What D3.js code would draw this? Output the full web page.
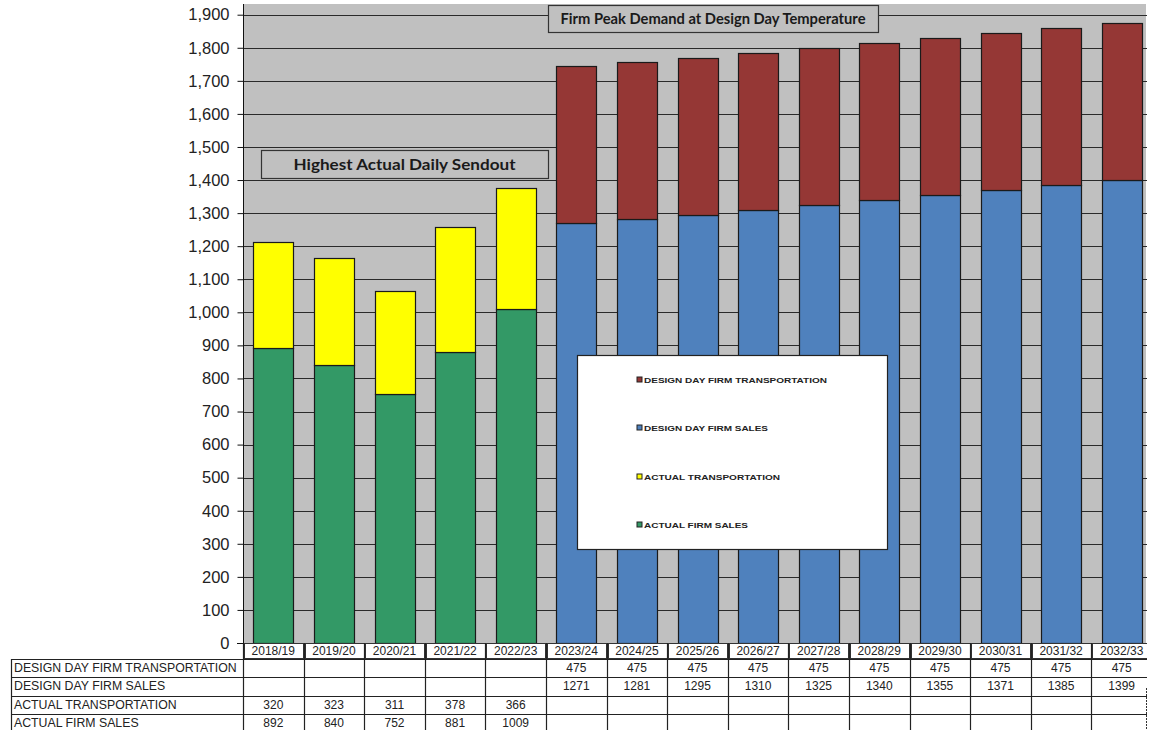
<!DOCTYPE html>
<html><head><meta charset="utf-8">
<script src="https://cdn.jsdelivr.net/npm/d3@7/dist/d3.min.js"></script>
<style>body{margin:0;background:#fff}svg{display:block}</style>
</head><body>
<script>
const categories = ["2018/19","2019/20","2020/21","2021/22","2022/23","2023/24","2024/25","2025/26","2026/27","2027/28","2028/29","2029/30","2030/31","2031/32","2032/33"];
const actualFirmSales = [892,840,752,881,1009,null,null,null,null,null,null,null,null,null,null];
const actualTransportation = [320,323,311,378,366,null,null,null,null,null,null,null,null,null,null];
const designDayFirmSales = [null,null,null,null,null,1271,1281,1295,1310,1325,1340,1355,1371,1385,1399];
const designDayFirmTransportation = [null,null,null,null,null,475,475,475,475,475,475,475,475,475,475];
const seriesNames = ["DESIGN DAY FIRM TRANSPORTATION","DESIGN DAY FIRM SALES","ACTUAL TRANSPORTATION","ACTUAL FIRM SALES"];
const yTicks = d3.range(0, 1901, 100);
const titleRight = "Firm Peak Demand at Design Day Temperature";
const titleLeft = "Highest Actual Daily Sendout";

const colors = {
  "ACTUAL FIRM SALES":"#339966",
  "ACTUAL TRANSPORTATION":"#ffff00",
  "DESIGN DAY FIRM SALES":"#4f81bd",
  "DESIGN DAY FIRM TRANSPORTATION":"#953735"
};
const seriesData = {
  "ACTUAL FIRM SALES":actualFirmSales,
  "ACTUAL TRANSPORTATION":actualTransportation,
  "DESIGN DAY FIRM SALES":designDayFirmSales,
  "DESIGN DAY FIRM TRANSPORTATION":designDayFirmTransportation
};
const stackOrder = ["ACTUAL FIRM SALES","ACTUAL TRANSPORTATION","DESIGN DAY FIRM SALES","DESIGN DAY FIRM TRANSPORTATION"];

const W = 1154, H = 730;
const svg = d3.select("body").append("svg").attr("width", W).attr("height", H);
const defs = svg.append("defs");
defs.append("clipPath").attr("id","clipR").append("rect").attr("x",0).attr("y",0).attr("width",1147).attr("height",H);
const g = svg.append("g").attr("clip-path","url(#clipR)");

const x = d3.scaleBand().domain(categories).range([243, 1152]).paddingInner(0.34).paddingOuter(0.17);
const y = d3.scaleLinear().domain([0, 1900]).range([643, 14.7]);

// plot background
g.append("rect").attr("x",243).attr("y",4).attr("width",1146-243).attr("height",643-4).attr("fill","#c0c0c0");

// gridlines
g.append("g").selectAll("line").data(yTicks.filter(d=>d>0)).join("line")
  .attr("x1",243).attr("x2",1152).attr("y1",d=>Math.round(y(d))+0.5).attr("y2",d=>Math.round(y(d))+0.5)
  .attr("stroke","#2a2a2a").attr("stroke-width",1);

// stacked bars
const rows = categories.map((c,i)=>{const o={cat:c}; stackOrder.forEach(s=>o[s]=seriesData[s][i]||0); return o;});
const stack = d3.stack().keys(stackOrder)(rows);
const barG = g.append("g");
stack.forEach(layer=>{
  barG.append("g").attr("fill",colors[layer.key]).selectAll("rect")
    .data(layer.filter(d=>d[1]-d[0]>0)).join("rect")
    .attr("x",d=>Math.round(x(d.data.cat))+0.5)
    .attr("width",Math.round(x.bandwidth()))
    .attr("y",d=>Math.round(y(d[1]))+0.5)
    .attr("height",d=>Math.round(y(d[0]))-Math.round(y(d[1])))
    .attr("stroke","#1a1a1a").attr("stroke-width",1.2);
});

// y axis
const yAxis = d3.axisLeft(y).tickValues(yTicks).tickFormat(d3.format(",")).tickSize(6).tickPadding(8);
const ax = svg.append("g").attr("transform","translate(243.5,0)").call(yAxis);
ax.select(".domain").remove();
svg.append("line").attr("x1",243.5).attr("x2",243.5).attr("y1",4).attr("y2",643).attr("stroke","#111");
svg.append("line").attr("x1",237).attr("x2",243).attr("y1",Math.round(y(0))+0.5).attr("y2",Math.round(y(0))+0.5).attr("stroke","#111");
ax.selectAll(".tick line").attr("stroke","#111");
ax.selectAll(".tick text").attr("font-family","Liberation Sans, Arial, sans-serif").attr("font-size","16.5px").attr("fill","#222");

// title boxes
function titleBox(x0,y0,w,h,text,tw){
  svg.append("rect").attr("x",x0+0.5).attr("y",y0+0.5).attr("width",w).attr("height",h)
    .attr("fill","#c0c0c0").attr("stroke","#333").attr("stroke-width",1.2);
  svg.append("text").attr("x",x0+w/2).attr("y",y0+h/2+5.5).attr("text-anchor","middle")
    .attr("font-family","Lato, 'Open Sans', sans-serif").attr("font-weight","bold").attr("font-size","16px")
    .attr("fill","#1a1a1a").attr("textLength",tw).attr("lengthAdjust","spacingAndGlyphs").text(text);
}
titleBox(548,5,330,27,titleRight,305);
titleBox(261,150,287,28,titleLeft,222);

// legend
svg.append("rect").attr("x",577.5).attr("y",355.5).attr("width",310).attr("height",194)
  .attr("fill","#fff").attr("stroke","#222").attr("stroke-width",1.2);
const legY = [380,428,477,525];
const legW = [183,124,136,104];
seriesNames.forEach((s,i)=>{
  svg.append("rect").attr("x",637).attr("y",legY[i]-3).attr("width",5).attr("height",5)
    .attr("fill",colors[s]).attr("stroke","#222").attr("stroke-width",1);
  svg.append("text").attr("x",644).attr("y",legY[i]+3).attr("font-family","Liberation Sans, Arial, sans-serif")
    .attr("font-weight","bold").attr("font-size","8px").attr("fill","#222")
    .attr("textLength",legW[i]).attr("lengthAdjust","spacingAndGlyphs").text(s);
});

// data table
const tg = g.append("g").attr("font-family","Liberation Sans, Arial, sans-serif").attr("fill","#222");
// category header cells
categories.forEach(c=>{
  const x0 = x(c) - x.step()*x.paddingInner()/2;
  tg.append("rect").attr("x",Math.round(x0)+1.5).attr("y",643.5).attr("width",Math.round(x.step())-2).attr("height",15)
    .attr("fill","#fff").attr("stroke","#333").attr("stroke-width",1);
  tg.append("text").attr("x",x0+x.step()/2).attr("y",655).attr("text-anchor","middle").attr("font-size","12px").text(c);
});
const tableRowsTop = [659,677,696,714];
const rowH = 18.3;
const tableSeries = seriesNames;
// horizontal lines
const tl = g.append("g").attr("stroke","#222").attr("stroke-width",1.2);
tableRowsTop.concat([732]).forEach(yy=>{
  tl.append("line").attr("x1",11).attr("x2",1152).attr("y1",yy+0.5).attr("y2",yy+0.5);
});
tl.append("line").attr("x1",11.5).attr("x2",11.5).attr("y1",659).attr("y2",730);
const bounds = categories.map(c=>x(c) - x.step()*x.paddingInner()/2);
bounds.forEach(b=>{
  tl.append("line").attr("x1",Math.round(b)+0.5).attr("x2",Math.round(b)+0.5).attr("y1",643).attr("y2",730);
});
tableSeries.forEach((s,r)=>{
  const cy = tableRowsTop[r] + 13;
  tg.append("text").attr("x",14).attr("y",cy).attr("font-size","12.3px").text(s);
  seriesData[s].forEach((v,i)=>{
    if(v==null) return;
    tg.append("text").attr("x",bounds[i]+x.step()/2).attr("y",cy).attr("text-anchor","middle").attr("font-size","12px").text(v);
  });
});
// dashed right edge
svg.append("line").attr("x1",1146.5).attr("x2",1146.5).attr("y1",688).attr("y2",730)
  .attr("stroke","#333").attr("stroke-dasharray","2,1");
</script>
</body></html>
